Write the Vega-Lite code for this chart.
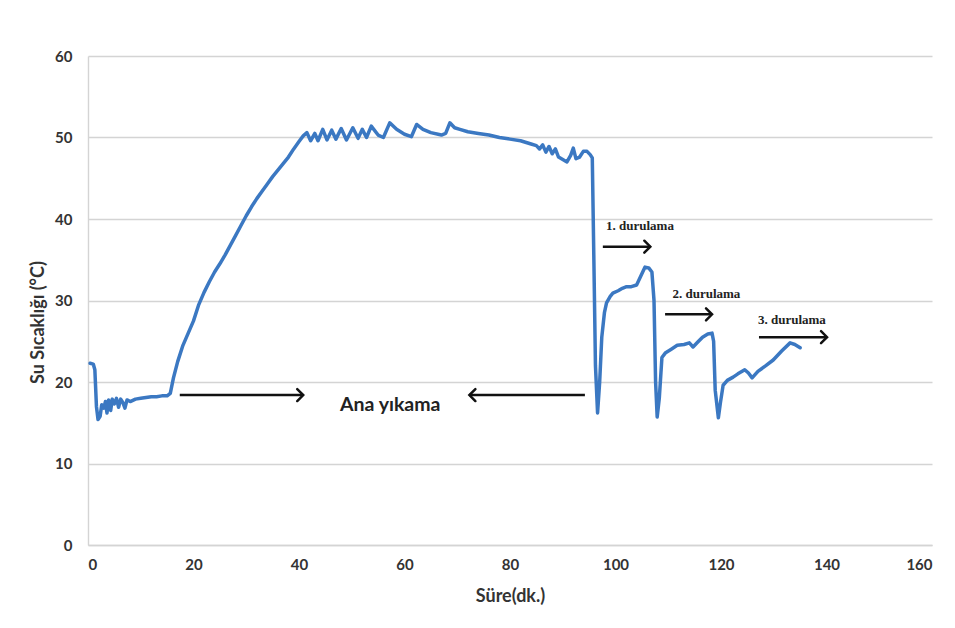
{
  "$schema": "https://vega.github.io/schema/vega-lite/v6.json",
  "width": 844,
  "height": 489,
  "autosize": {"type": "none"},
  "padding": {"left": 88, "top": 56, "right": 23, "bottom": 83},
  "background": "white",
  "config": {
    "view": {"stroke": null},
    "font": "Lato",
    "axis": {
      "gridColor": "#d4d4d4",
      "gridWidth": 1.4,
      "domainColor": "#d4d4d4",
      "domainWidth": 1.4,
      "ticks": false,
      "labelFont": "Lato",
      "labelFontWeight": "bold",
      "labelFontSize": 15,
      "labelColor": "#333333",
      "titleFont": "Lato",
      "titleFontWeight": "bold",
      "titleColor": "#333333"
    }
  },
  "datasets": {
    "temp": [
      {"t": 0.4, "v": 22.3}, {"t": 1.0, "v": 22.2}, {"t": 1.3, "v": 21.5}, {"t": 1.6, "v": 17}, {"t": 1.9, "v": 15.4},
      {"t": 2.3, "v": 15.8}, {"t": 2.6, "v": 17.2}, {"t": 3.0, "v": 16.8}, {"t": 3.3, "v": 17.6}, {"t": 3.6, "v": 16.2},
      {"t": 3.9, "v": 17.8}, {"t": 4.3, "v": 16.5}, {"t": 4.6, "v": 17.9}, {"t": 5.0, "v": 17.3}, {"t": 5.4, "v": 18},
      {"t": 5.8, "v": 16.9}, {"t": 6.2, "v": 17.9}, {"t": 6.6, "v": 17.5}, {"t": 7.0, "v": 16.8}, {"t": 7.4, "v": 17.8},
      {"t": 8, "v": 17.6}, {"t": 9, "v": 17.9}, {"t": 10, "v": 18.0}, {"t": 11, "v": 18.1}, {"t": 12, "v": 18.2},
      {"t": 13, "v": 18.2}, {"t": 14, "v": 18.3}, {"t": 15, "v": 18.3}, {"t": 15.6, "v": 18.6}, {"t": 16.2, "v": 20.5},
      {"t": 17, "v": 22.5}, {"t": 18, "v": 24.5}, {"t": 19, "v": 26}, {"t": 20, "v": 27.5}, {"t": 21, "v": 29.5},
      {"t": 22, "v": 31}, {"t": 23, "v": 32.3}, {"t": 24, "v": 33.5}, {"t": 25, "v": 34.5}, {"t": 26, "v": 35.6},
      {"t": 27, "v": 36.8}, {"t": 28, "v": 38}, {"t": 29, "v": 39.2}, {"t": 30, "v": 40.4}, {"t": 31, "v": 41.5},
      {"t": 32, "v": 42.5}, {"t": 33, "v": 43.4}, {"t": 34, "v": 44.3}, {"t": 35, "v": 45.2}, {"t": 36, "v": 46},
      {"t": 37, "v": 46.8}, {"t": 38, "v": 47.6}, {"t": 39, "v": 48.6}, {"t": 40, "v": 49.5}, {"t": 40.8, "v": 50.2},
      {"t": 41.5, "v": 50.6}, {"t": 42.2, "v": 49.6}, {"t": 43, "v": 50.5}, {"t": 43.6, "v": 49.6}, {"t": 44.5, "v": 51},
      {"t": 45.3, "v": 49.7}, {"t": 46.2, "v": 50.9}, {"t": 47, "v": 49.8}, {"t": 48, "v": 51.1}, {"t": 49, "v": 49.7},
      {"t": 50.2, "v": 51.2}, {"t": 51.2, "v": 49.9}, {"t": 52, "v": 51}, {"t": 52.8, "v": 50.0}, {"t": 53.7, "v": 51.4},
      {"t": 55, "v": 50.3}, {"t": 56, "v": 50.0}, {"t": 57.2, "v": 51.8}, {"t": 58.5, "v": 51}, {"t": 60, "v": 50.4},
      {"t": 61.3, "v": 50.1}, {"t": 62.3, "v": 51.6}, {"t": 63.5, "v": 51}, {"t": 65, "v": 50.6}, {"t": 67, "v": 50.3},
      {"t": 67.8, "v": 50.5}, {"t": 68.6, "v": 51.8}, {"t": 69.5, "v": 51.2}, {"t": 70.5, "v": 51}, {"t": 72, "v": 50.7},
      {"t": 74, "v": 50.5}, {"t": 76, "v": 50.3}, {"t": 78, "v": 50}, {"t": 80, "v": 49.8}, {"t": 82, "v": 49.6},
      {"t": 84, "v": 49.2}, {"t": 85, "v": 49}, {"t": 85.6, "v": 48.6}, {"t": 86.2, "v": 49.1}, {"t": 86.8, "v": 48.2},
      {"t": 87.4, "v": 48.9}, {"t": 88, "v": 48}, {"t": 88.6, "v": 48.6}, {"t": 89.2, "v": 47.6}, {"t": 90, "v": 47.3},
      {"t": 90.8, "v": 47}, {"t": 91.5, "v": 47.8}, {"t": 92, "v": 48.7}, {"t": 92.5, "v": 47.4}, {"t": 93.2, "v": 47.6},
      {"t": 93.9, "v": 48.3}, {"t": 94.6, "v": 48.3}, {"t": 95.2, "v": 47.9}, {"t": 95.6, "v": 47.5}, {"t": 95.9, "v": 35},
      {"t": 96.2, "v": 22}, {"t": 96.6, "v": 16.2}, {"t": 97.0, "v": 20}, {"t": 97.4, "v": 25.5}, {"t": 97.9, "v": 28.5},
      {"t": 98.3, "v": 29.7}, {"t": 99, "v": 30.5}, {"t": 99.5, "v": 30.9}, {"t": 100.5, "v": 31.2}, {"t": 101.3, "v": 31.5},
      {"t": 102.1, "v": 31.7}, {"t": 103, "v": 31.7}, {"t": 104, "v": 31.9}, {"t": 104.8, "v": 33}, {"t": 105.6, "v": 34.1},
      {"t": 106.3, "v": 34}, {"t": 106.9, "v": 33.5}, {"t": 107.3, "v": 30}, {"t": 107.6, "v": 20}, {"t": 107.9, "v": 15.7},
      {"t": 108.3, "v": 18}, {"t": 108.8, "v": 23}, {"t": 109.5, "v": 23.6}, {"t": 110.5, "v": 24}, {"t": 111.7, "v": 24.5},
      {"t": 113, "v": 24.6}, {"t": 114, "v": 24.8}, {"t": 114.7, "v": 24.3}, {"t": 115.6, "v": 24.9}, {"t": 116.5, "v": 25.5},
      {"t": 117.5, "v": 25.9}, {"t": 118.3, "v": 26}, {"t": 118.6, "v": 25}, {"t": 118.9, "v": 19}, {"t": 119.5, "v": 15.6},
      {"t": 119.9, "v": 17.5}, {"t": 120.4, "v": 19.6}, {"t": 121.2, "v": 20.2}, {"t": 122.3, "v": 20.6}, {"t": 123.2, "v": 21},
      {"t": 124.5, "v": 21.5}, {"t": 125.2, "v": 21.1}, {"t": 125.9, "v": 20.5}, {"t": 127, "v": 21.3}, {"t": 128.5, "v": 22},
      {"t": 129.9, "v": 22.7}, {"t": 131.5, "v": 23.8}, {"t": 133.1, "v": 24.8}, {"t": 134, "v": 24.6}, {"t": 135, "v": 24.2}
    ],
    "arrows": [
      {"x1": 17.4, "x2": 40.8, "y": 18.4, "dir": "right"},
      {"x1": 94.2, "x2": 72.3, "y": 18.4, "dir": "left"},
      {"x1": 97.6, "x2": 106.6, "y": 36.6, "dir": "right"},
      {"x1": 109.4, "x2": 118.3, "y": 28.3, "dir": "right"},
      {"x1": 127.2, "x2": 140.1, "y": 25.5, "dir": "right"}
    ],
    "labels": [
      {"x": 57.3, "y": 17.2, "text": "Ana yıkama", "kind": "main"},
      {"x": 98.2, "y": 39.1, "text": "1. durulama", "kind": "sub"},
      {"x": 110.8, "y": 30.8, "text": "2. durulama", "kind": "sub"},
      {"x": 127.0, "y": 27.6, "text": "3. durulama", "kind": "sub"}
    ]
  },
  "layer": [
    {
      "data": {"name": "temp"},
      "mark": {"type": "line", "color": "#3b78c2", "strokeWidth": 3.5, "strokeJoin": "round", "strokeCap": "round"},
      "encoding": {
        "x": {
          "field": "t", "type": "quantitative",
          "scale": {"domain": [0, 160], "nice": false},
          "axis": {"values": [0, 20, 40, 60, 80, 100, 120, 140, 160], "grid": false, "domain": true, "labelPadding": 12, "title": "Süre(dk.)", "titleFontSize": 18, "titlePadding": 15}
        },
        "y": {
          "field": "v", "type": "quantitative",
          "scale": {"domain": [0, 60], "nice": false},
          "axis": {"values": [0, 10, 20, 30, 40, 50, 60], "grid": true, "labelPadding": 16, "title": "Su Sıcaklığı (°C)", "titleFontSize": 18, "titlePadding": 7, "titleY": 266}
        }
      }
    },
    {
      "data": {"name": "arrows"},
      "mark": {"type": "rule", "color": "#111111", "strokeWidth": 2.5},
      "encoding": {
        "x": {"field": "x1", "type": "quantitative"},
        "x2": {"field": "x2"},
        "y": {"field": "y", "type": "quantitative"}
      }
    },
    {
      "data": {"name": "arrows"},
      "mark": {"type": "point", "filled": false, "stroke": "#111111", "strokeWidth": 2.5, "size": 144, "opacity": 1, "strokeCap": "round"},
      "encoding": {
        "x": {"field": "x2", "type": "quantitative"},
        "y": {"field": "y", "type": "quantitative"},
        "shape": {
          "field": "dir", "type": "nominal",
          "scale": {"domain": ["right", "left"], "range": ["M-1,-1L0,0L-1,1", "M1,-1L0,0L1,1"]},
          "legend": null
        }
      }
    },
    {
      "data": {"name": "labels"},
      "transform": [{"filter": "datum.kind == 'main'"}],
      "mark": {"type": "text", "font": "Lato", "fontWeight": "bold", "fontSize": 19.5, "color": "#222222", "align": "center", "baseline": "middle"},
      "encoding": {
        "x": {"field": "x", "type": "quantitative"},
        "y": {"field": "y", "type": "quantitative"},
        "text": {"field": "text"}
      }
    },
    {
      "data": {"name": "labels"},
      "transform": [{"filter": "datum.kind == 'sub'"}],
      "mark": {"type": "text", "font": "Liberation Serif", "fontWeight": "bold", "fontSize": 13, "color": "#222222", "align": "left", "baseline": "middle"},
      "encoding": {
        "x": {"field": "x", "type": "quantitative"},
        "y": {"field": "y", "type": "quantitative"},
        "text": {"field": "text"}
      }
    }
  ]
}
